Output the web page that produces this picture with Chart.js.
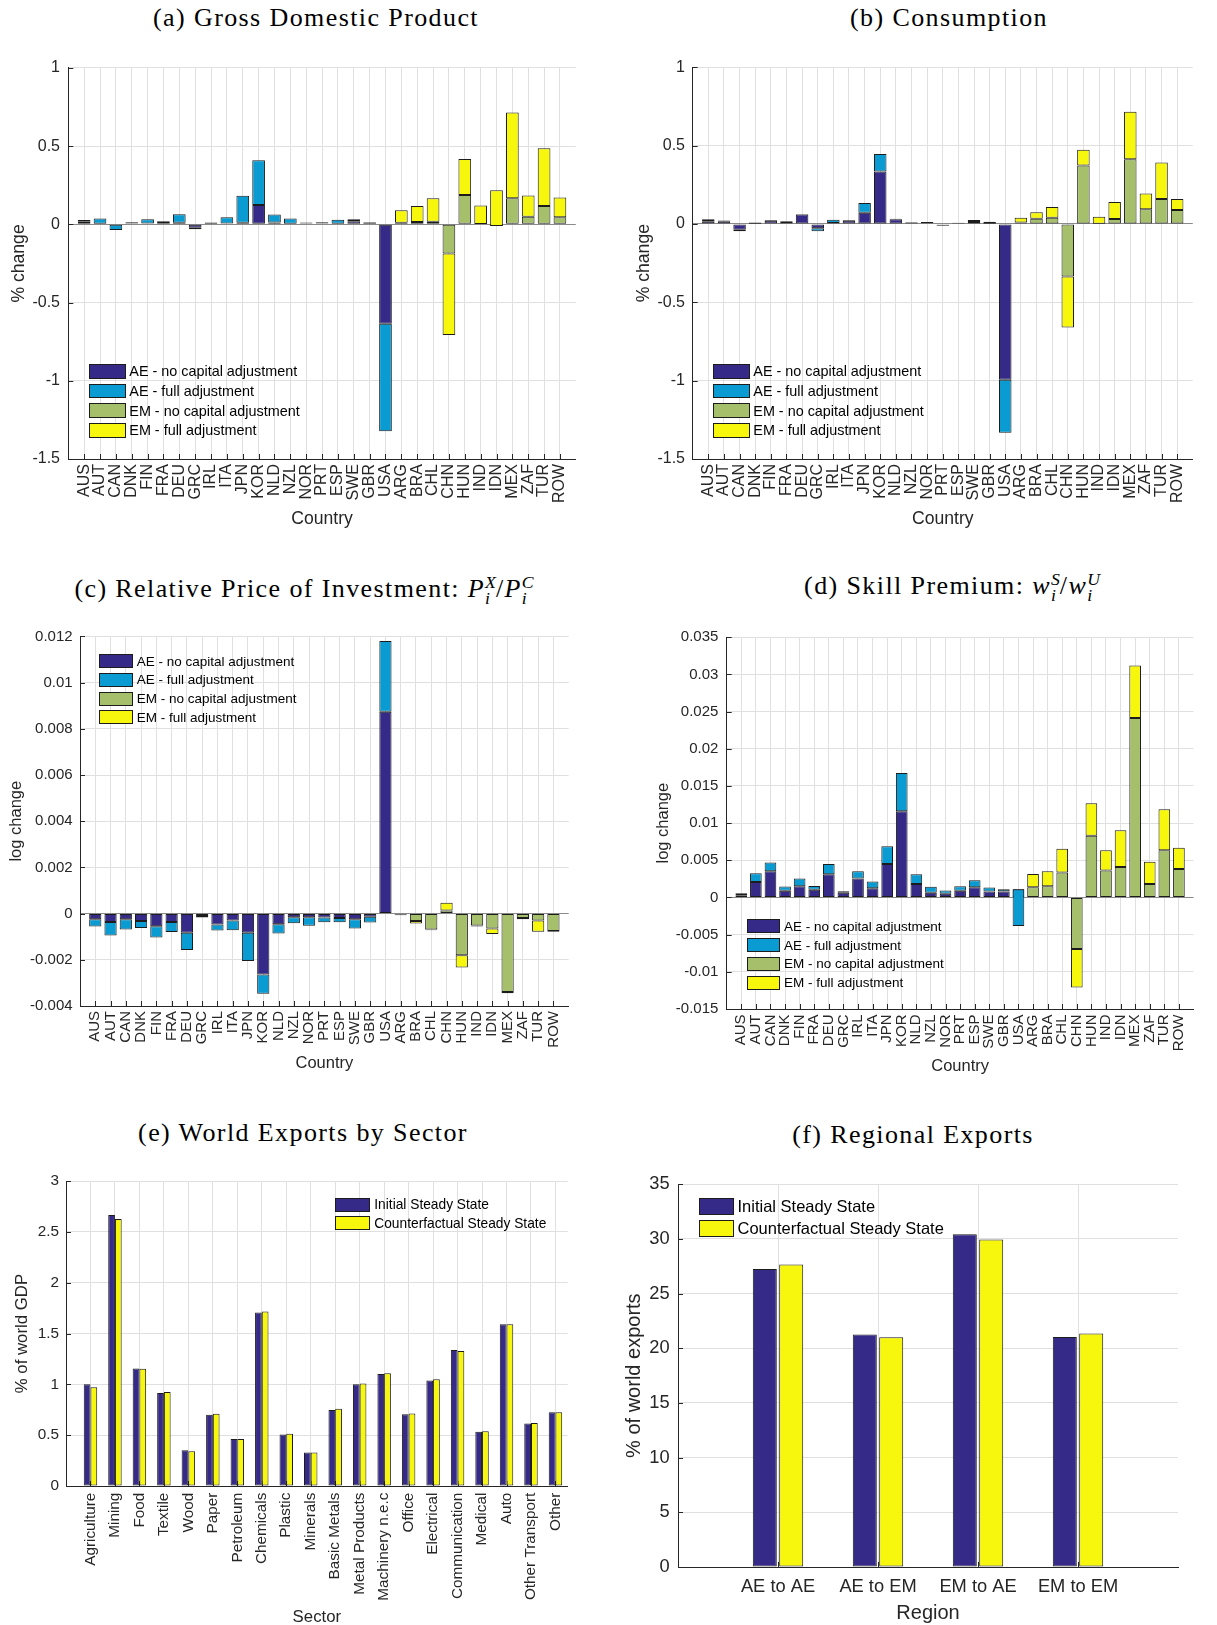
<!DOCTYPE html>
<html>
<head>
<meta charset="utf-8">
<script src="https://cdn.jsdelivr.net/npm/chart.js@4.4.1/dist/chart.umd.min.js"></script>
<style>
    body { margin: 0; width: 1217px; height: 1625px; position: relative; overflow: hidden; background: #fff;
           font-family: 'Liberation Sans', Arial, sans-serif; }
    canvas { position: absolute; }
    .ttl { position: absolute; transform: translate(-50%, -50%); white-space: nowrap; line-height: 1;
           font-family: 'Liberation Serif', 'Times New Roman', serif; font-size: 26px; letter-spacing: 1.4px; color: #000; }
    .m { font-style: italic; }
    .ss { display: inline-block; font-size: 0.68em; line-height: 0.9; vertical-align: -0.4em; font-style: italic; letter-spacing: 0; }
    .ss span { display: block; }
    .lg-row { position: absolute; display: flex; align-items: center; white-space: nowrap; color: #000; }
    .lg-sw { display: inline-block; box-sizing: border-box; border: 1px solid #1c1c1c; }
</style>
</head>
<body>
<div class="ttl" style="left:316px;top:18px">(a) Gross Domestic Product</div>
<div class="ttl" style="left:949px;top:18px">(b) Consumption</div>
<div class="ttl" style="left:304px;top:591px">(c) Relative Price of Investment: <span class="m">P</span><span class="ss"><span>X</span><span>i</span></span>/<span class="m">P</span><span class="ss"><span>C</span><span>i</span></span></div>
<div class="ttl" style="left:952px;top:588px">(d) Skill Premium: <span class="m">w</span><span class="ss"><span>S</span><span>i</span></span>/<span class="m">w</span><span class="ss"><span>U</span><span>i</span></span></div>
<div class="ttl" style="left:303px;top:1133px">(e) World Exports by Sector</div>
<div class="ttl" style="left:913px;top:1135px">(f) Regional Exports</div>

<canvas id="gdpChart"></canvas>
<canvas id="consChart"></canvas>
<canvas id="priceChart"></canvas>
<canvas id="skillChart"></canvas>
<canvas id="sectorChart"></canvas>
<canvas id="regionChart"></canvas>

<script>
// ===== Data =====
const countries = ['AUS', 'AUT', 'CAN', 'DNK', 'FIN', 'FRA', 'DEU', 'GRC', 'IRL', 'ITA', 'JPN', 'KOR', 'NLD', 'NZL',
    'NOR', 'PRT', 'ESP', 'SWE', 'GBR', 'USA', 'ARG', 'BRA', 'CHL', 'CHN', 'HUN', 'IND', 'IDN', 'MEX', 'ZAF', 'TUR', 'ROW'];
const AE_COUNT = 20; // AUS..USA are advanced economies, the rest emerging

const seriesNames = ['AE - no capital adjustment', 'AE - full adjustment', 'EM - no capital adjustment', 'EM - full adjustment'];

// (a) GDP, % change
const gdpNoCap = [0.016, 0.003, -0.003, 0.006, 0.006, 0.008, 0.01, -0.022, 0.004, 0.006, 0.01, 0.124, 0.012, 0.004,
    0.006, 0.006, 0.004, 0.02, 0.012, -0.635, 0.01, 0.015, 0.017, -0.187, 0.187, 0.002, -0.01, 0.166, 0.048, 0.117, 0.046];
const gdpFull = [0.027, 0.038, -0.036, 0.014, 0.033, 0.02, 0.065, -0.032, 0.012, 0.045, 0.183, 0.409, 0.063, 0.038,
    0.012, 0.013, 0.029, 0.033, 0.015, -1.323, 0.09, 0.117, 0.166, -0.707, 0.417, 0.12, 0.218, 0.715, 0.184, 0.486, 0.172];

// (b) Consumption, % change
const consNoCap = [0.017, 0.018, -0.037, 0.002, 0.02, 0.013, 0.06, -0.027, 0.006, 0.02, 0.071, 0.335, 0.03, 0.01,
    0.005, -0.005, 0.006, 0.012, 0.002, -0.994, 0.01, 0.034, 0.04, -0.335, 0.373, 0.002, 0.031, 0.413, 0.094, 0.159, 0.09];
const consFull = [0.03, 0.022, -0.046, 0.01, 0.025, 0.017, 0.063, -0.047, 0.027, 0.025, 0.134, 0.447, 0.034, 0.013,
    0.013, -0.012, 0.008, 0.025, 0.015, -1.333, 0.04, 0.075, 0.109, -0.66, 0.474, 0.046, 0.14, 0.717, 0.195, 0.392, 0.159];

// (c) Relative price of investment, log change
const priceNoCap = [-0.00024, -0.00036, -0.00024, -0.00032, -0.00055, -0.00036, -0.00083, -0.0001, -0.00047, -0.0003,
    -0.00083, -0.00264, -0.00046, -0.00016, -0.00016, -0.00017, -0.00019, -0.00024, -0.00014, 0.00874,
    -0.00005, -0.00032, -0.00069, 0.00013, -0.0018, -0.00052, -0.00065, -0.00339, -0.00019, -0.0003, -0.00075];
const priceFull = [-0.00056, -0.00095, -0.00069, -0.00062, -0.00103, -0.0008, -0.00158, -0.00017, -0.00073, -0.00072,
    -0.00205, -0.00347, -0.00086, -0.00042, -0.00053, -0.00037, -0.00037, -0.00065, -0.00039, 0.0118,
    -0.00007, -0.00043, -0.00072, 0.00047, -0.00233, -0.00056, -0.00088, -0.00345, -0.00024, -0.00079, -0.00079];

// (d) Skill premium, log change
const skillNoCap = [0.0003, 0.0021, 0.00353, 0.00089, 0.00152, 0.00103, 0.00313, 0.00063, 0.00254, 0.00125, 0.00451,
    0.0116, 0.00183, 0.00063, 0.00049, 0.00089, 0.00138, 0.0008, 0.0008, 0.00112,
    0.00138, 0.00152, 0.00335, -0.00692, 0.0083, 0.00362, 0.00411, 0.02415, 0.00183, 0.00634, 0.00384];
const skillFull = [0.00058, 0.00326, 0.00469, 0.00147, 0.00254, 0.00156, 0.00451, 0.00085, 0.00353, 0.00214, 0.00688,
    0.01674, 0.00313, 0.00143, 0.00094, 0.00152, 0.00232, 0.00134, 0.00112, -0.00384,
    0.00317, 0.00353, 0.00656, -0.0121, 0.01268, 0.00634, 0.00906, 0.0312, 0.00482, 0.01188, 0.0067];

// (e) World exports by sector, % of world GDP
const sectors = ['Agriculture', 'Mining', 'Food', 'Textile', 'Wood', 'Paper', 'Petroleum', 'Chemicals', 'Plastic',
    'Minerals', 'Basic Metals', 'Metal Products', 'Machinery n.e.c', 'Office', 'Electrical', 'Communication',
    'Medical', 'Auto', 'Other Transport', 'Other'];
const sectorInitial = [1.002, 2.667, 1.157, 0.915, 0.352, 0.702, 0.462, 1.707, 0.508, 0.33, 0.747, 1.002, 1.102,
    0.705, 1.038, 1.338, 0.533, 1.591, 0.614, 0.727];
const sectorCounter = [0.973, 2.628, 1.154, 0.925, 0.343, 0.711, 0.462, 1.717, 0.514, 0.33, 0.76, 1.009, 1.109,
    0.714, 1.051, 1.329, 0.54, 1.591, 0.621, 0.727];

// (f) Regional exports, % of world exports
const regions = ['AE to AE', 'AE to EM', 'EM to AE', 'EM to EM'];
const regionInitial = [27.25, 21.27, 30.43, 21.03];
const regionCounter = [27.67, 21.0, 29.95, 21.36];
const steadyNames = ['Initial Steady State', 'Counterfactual Steady State'];

// ===== Style =====
const AXIS_COLOR = '#262626';
const GRID_COLOR = '#e0e0e0';
const ZERO_COLOR = '#8a8a8a';
const EDGE_COLOR = '#1c1c1c';
const C_AE_NO = '#352a87';
const C_AE_FULL = '#0a9bd2';
const C_EM_NO = '#a6bf6b';
const C_EM_FULL = '#f7f70e';

Chart.defaults.font.family = "'Liberation Sans', Arial, sans-serif";
Chart.defaults.color = AXIS_COLOR;

// ===== MATLAB style inward tick marks =====
const inwardTicks = {
    id: 'inwardTicks',
    beforeDatasetsDraw(chart) {
        const { ctx, chartArea } = chart;
        const xs = chart.scales.x, ys = chart.scales.y;
        ctx.save();
        ctx.strokeStyle = AXIS_COLOR;
        ctx.lineWidth = 1;
        ctx.beginPath();
        xs.ticks.forEach((t, i) => {
            if (!t.label) return;
            const px = Math.round(xs.getPixelForTick(i)) + 0.5;
            ctx.moveTo(px, chartArea.bottom);
            ctx.lineTo(px, chartArea.bottom - 5);
        });
        ys.ticks.forEach((t, i) => {
            const py = Math.round(ys.getPixelForTick(i)) + 0.5;
            ctx.moveTo(chartArea.left, py);
            ctx.lineTo(chartArea.left + 5, py);
        });
        ctx.stroke();
        ctx.restore();
    }
};

// ===== Helpers =====
function placeCanvas(id, box) {
    const cv = document.getElementById(id);
    cv.width = box[2] - box[0];
    cv.height = box[3] - box[1];
    cv.style.left = box[0] + 'px';
    cv.style.top = box[1] + 'px';
    return cv;
}

function drawLegend(items, lg) {
    items.forEach((it, k) => {
        const row = document.createElement('div');
        row.className = 'lg-row';
        row.style.left = lg.x + 'px';
        row.style.top = (lg.y + k * lg.pitch) + 'px';
        row.style.height = lg.h + 'px';
        row.style.fontSize = lg.font + 'px';
        const sw = document.createElement('span');
        sw.className = 'lg-sw';
        sw.style.width = lg.w + 'px';
        sw.style.height = lg.h + 'px';
        sw.style.background = it.color;
        const tx = document.createElement('span');
        tx.textContent = it.label;
        tx.style.marginLeft = lg.gap + 'px';
        row.append(sw, tx);
        document.body.append(row);
    });
}

const fmtTick = (v) => String(Math.round(v * 1e6) / 1e6);

function panelOptions(p) {
    const [x0, y0, x1, y1] = p.box;
    const [L, T, R, B] = p.plot;
    return {
        responsive: false,
        animation: false,
        layout: { padding: { top: T - y0, right: x1 - R, left: 0, bottom: 0 } },
        plugins: { legend: { display: false }, tooltip: { enabled: false } },
        scales: {
            x: {
                offset: false,
                grid: {
                    offset: false,
                    drawTicks: false,
                    color: (ctx) => (ctx.tick && ctx.tick.label) ? GRID_COLOR : 'rgba(0,0,0,0)'
                },
                border: { color: AXIS_COLOR, width: 1 },
                ticks: {
                    autoSkip: false, maxRotation: p.rot, minRotation: p.rot, padding: p.xPad,
                    color: AXIS_COLOR, font: { size: p.tick }
                },
                title: {
                    display: true, text: p.xTitle, color: AXIS_COLOR, font: { size: p.label },
                    padding: { top: 0, bottom: y1 - p.xTitleY - 0.6 * p.label }
                },
                afterFit: (s) => { s.height = y1 - B; }
            },
            y: {
                min: p.yMin, max: p.yMax,
                grid: {
                    drawTicks: false,
                    color: (ctx) => (p.zeroLine && Math.abs(ctx.tick.value) < 1e-12) ? ZERO_COLOR : GRID_COLOR
                },
                border: { color: AXIS_COLOR, width: 1 },
                ticks: { stepSize: p.yStep, padding: p.yPad, color: AXIS_COLOR, font: { size: p.tick }, callback: fmtTick },
                title: {
                    display: true, text: p.yTitle, color: AXIS_COLOR, font: { size: p.label },
                    padding: { top: p.yTitleX - x0 - 0.6 * p.label, bottom: 0 }
                },
                afterFit: (s) => { s.width = L - x0; }
            }
        }
    };
}

// ===== Country panels (floating segments, MATLAB cumulative stacking) =====
function countryDatasets(noCap, full) {
    const pick = (isAE, fn) => [null, ...noCap.map((v, i) => ((i < AE_COUNT) === isAE ? fn(i) : null)), null];
    const sets = [
        { label: seriesNames[0], data: pick(true, i => [0, noCap[i]]), backgroundColor: C_AE_NO, order: 2 },
        { label: seriesNames[1], data: pick(true, i => [noCap[i], full[i]]), backgroundColor: C_AE_FULL, order: 1 },
        { label: seriesNames[2], data: pick(false, i => [0, noCap[i]]), backgroundColor: C_EM_NO, order: 2 },
        { label: seriesNames[3], data: pick(false, i => [noCap[i], full[i]]), backgroundColor: C_EM_FULL, order: 1 }
    ];
    return sets.map(d => Object.assign(d, {
        borderColor: EDGE_COLOR, borderWidth: 1, borderSkipped: false,
        grouped: false, categoryPercentage: 0.8, barPercentage: 1
    }));
}

function countryChart(id, p, noCap, full) {
    const cv = placeCanvas(id, p.box);
    const opts = panelOptions(Object.assign({ rot: 90, xTitle: 'Country', zeroLine: true }, p));
    const chart = new Chart(cv, {
        type: 'bar',
        data: { labels: ['', ...countries, ''], datasets: countryDatasets(noCap, full) },
        options: opts,
        plugins: [inwardTicks]
    });
    const colors = [C_AE_NO, C_AE_FULL, C_EM_NO, C_EM_FULL];
    drawLegend(seriesNames.map((label, k) => ({ label, color: colors[k] })), p.legend);
    return chart;
}

countryChart('gdpChart', {
    box: [0, 50, 600, 535], plot: [68.3, 61.7, 591.7, 459],
    yMin: -1.5, yMax: 1, yStep: 0.5, yTitle: '% change', yTitleX: 19, xTitleY: 519.4,
    tick: 16, label: 17.6, yPad: 8.3, xPad: 5,
    legend: { x: 89.3, y: 364, pitch: 19.7, w: 36.4, h: 14.5, gap: 3.6, font: 14.4 }
}, gdpNoCap, gdpFull);

countryChart('consChart', {
    box: [608, 50, 1217, 535], plot: [692.7, 61.7, 1215.7, 459],
    yMin: -1.5, yMax: 1, yStep: 0.5, yTitle: '% change', yTitleX: 643.7, xTitleY: 519.4,
    tick: 16, label: 17.6, yPad: 7.7, xPad: 5,
    legend: { x: 713.3, y: 364, pitch: 19.7, w: 36.7, h: 14.5, gap: 3.3, font: 14.4 }
}, consNoCap, consFull);

countryChart('priceChart', {
    box: [0, 620, 600, 1080], plot: [80, 634.7, 568.7, 1006],
    yMin: -0.004, yMax: 0.012, yStep: 0.002, yTitle: 'log change', yTitleX: 16.6, xTitleY: 1063.6,
    tick: 15, label: 16.5, yPad: 7.4, xPad: 5,
    legend: { x: 99.3, y: 654.3, pitch: 18.6, w: 34, h: 14, gap: 3.4, font: 13.5 }
}, priceNoCap, priceFull);

countryChart('skillChart', {
    box: [608, 620, 1217, 1080], plot: [726.7, 635.7, 1216.7, 1009],
    yMin: -0.015, yMax: 0.035, yStep: 0.005, yTitle: 'log change', yTitleX: 663.4, xTitleY: 1066.7,
    tick: 15, label: 16.5, yPad: 8.3, xPad: 5.5,
    legend: { x: 746.7, y: 919.3, pitch: 18.8, w: 33.3, h: 14, gap: 4, font: 13.5 }
}, skillNoCap, skillFull);

// ===== Grouped bar panels =====
function groupedChart(id, p, names, values, catNames) {
    const cv = placeCanvas(id, p.box);
    const opts = panelOptions(p);
    Object.assign(opts.scales.x, { type: 'linear', min: 0, max: p.xMax });
    Object.assign(opts.scales.x.ticks, {
        stepSize: 1, includeBounds: false,
        callback: (v) => catNames[v - 1] || ''
    });
    const colors = [C_AE_NO, C_EM_FULL];
    const chart = new Chart(cv, {
        type: 'bar',
        data: {
            datasets: values.map((vals, k) => ({
                label: names[k],
                data: vals.map((v, i) => ({ x: i + 1, y: v })),
                backgroundColor: colors[k],
                borderColor: EDGE_COLOR, borderWidth: 1, borderSkipped: false,
                categoryPercentage: p.catPct, barPercentage: p.barPct
            }))
        },
        options: opts,
        plugins: [inwardTicks]
    });
    drawLegend(names.map((label, k) => ({ label, color: colors[k] })), p.legend);
    return chart;
}

groupedChart('sectorChart', {
    box: [0, 1165, 600, 1635], plot: [66, 1176.7, 567.7, 1486],
    xMax: 20.5, rot: 90, xTitle: 'Sector', xTitleY: 1617,
    yMin: 0, yMax: 3, yStep: 0.5, yTitle: '% of world GDP', yTitleX: 22.8,
    tick: 15.3, label: 16.8, yPad: 7, xPad: 6.7, catPct: 0.55, barPct: 1,
    legend: { x: 335, y: 1197.7, pitch: 18.6, w: 35, h: 14, gap: 4.3, font: 13.75 }
}, steadyNames, [sectorInitial, sectorCounter], sectors);

groupedChart('regionChart', {
    box: [608, 1165, 1217, 1635], plot: [678, 1179.3, 1178, 1567],
    xMax: 5, rot: 0, xTitle: 'Region', xTitleY: 1613,
    yMin: 0, yMax: 35, yStep: 5, yTitle: '% of world exports', yTitleX: 634.4,
    tick: 18.3, label: 20, yPad: 8.3, xPad: 9, catPct: 0.528, barPct: 0.909,
    legend: { x: 699, y: 1198.3, pitch: 22, w: 35, h: 17, gap: 3.5, font: 16.5 }
}, steadyNames, [regionInitial, regionCounter], regions);
</script>
</body>
</html>
